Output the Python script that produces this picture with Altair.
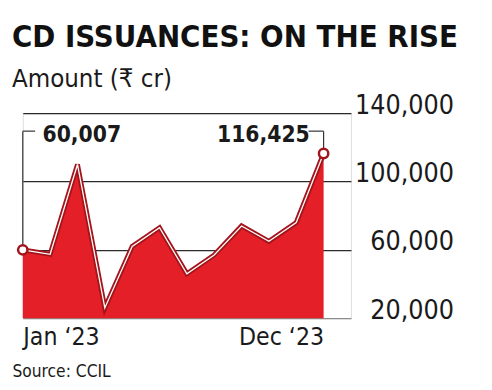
import altair as alt
import pandas as pd

months = ["Jan", "Feb", "Mar", "Apr", "May", "Jun", "Jul", "Aug", "Sep", "Oct", "Nov", "Dec"]
month_index = list(range(12))
amounts = [60007, 57400, 110000, 26000, 62000, 73000, 46000, 57000, 74000, 65000, 76000, 116425]
y_ticks = [20000, 60000, 100000, 140000]
x_tick_index = [0, 11]
x_tick_labels = ["Jan ‘23", "Dec ‘23"]
callout_index = [0, 11]
callout_values = [60007, 116425]
callout_text = ["60,007", "116,425"]
callout_side = ["left", "right"]
callout_level = 129500

RED = "#e41f27"
DARK = "#a3141b"
FONT = "DejaVu Sans Condensed"

df = pd.DataFrame({"i": month_index, "month": months, "amount": amounts})
ends = df[df["i"].isin(callout_index)]
callouts = pd.DataFrame({
    "i": callout_index,
    "amount": callout_values,
    "text": callout_text,
    "side": callout_side,
    "level": [callout_level] * len(callout_index),
    "x_end": [callout_index[0] + 0.45, callout_index[1] - 0.55],
})

xs = alt.Scale(domain=[0, 12], nice=False, zero=False)
ys = alt.Scale(domain=[20000, 140000], nice=False, zero=False)

x_axis = alt.Axis(
    values=x_tick_index,
    labelExpr="datum.value == 0 ? '%s' : '%s'" % (x_tick_labels[0], x_tick_labels[1]),
    labelAlign={"condition": {"test": "datum.value == 0", "value": "left"}, "value": "right"},
    labelFontSize=25, labelFont=FONT, labelColor="#1a1a1a", labelPadding=7,
    ticks=False, domain=False, grid=False,
    title="Source: CCIL", titleFont=FONT, titleFontSize=17.5, titleFontWeight="normal",
    titleColor="#1a1a1a", titleAnchor="start", titleAlign="left", titleX=-11, titlePadding=13,
)
y_axis = alt.Axis(
    orient="right", values=y_ticks, format=",.0f",
    grid=True,
    gridColor={"condition": {"test": "datum.value == 20000", "value": "#8c8c8c"}, "value": "#2b2b2b"},
    gridWidth=1.2,
    labelAlign="right", labelBaseline="alphabetic", labelPadding=104,
    labelFontSize=27, labelFont=FONT, labelColor="#1a1a1a",
    ticks=False, domain=False, title=None,
)

X = alt.X("i:Q", scale=xs, axis=x_axis)
Y = alt.Y("amount:Q", scale=ys, axis=y_axis)
YL = alt.Y("level:Q", scale=ys, axis=y_axis)

base = alt.Chart(df)
area = base.mark_area(color=RED, opacity=1).encode(x=X, y=Y, y2=alt.datum(20000))
line_dark = base.mark_line(color=DARK, strokeWidth=5, strokeJoin="miter").encode(x=X, y=Y)
line_white = base.mark_line(color="white", strokeWidth=1.3, strokeJoin="miter").encode(x=X, y=Y)

cbase = alt.Chart(callouts)
lead_v = cbase.mark_rule(color="#333", strokeWidth=1.2).encode(x=X, y=Y, y2="level:Q")
lead_h = cbase.mark_rule(color="#333", strokeWidth=1.2).encode(x=X, x2="x_end:Q", y=YL)
pts = alt.Chart(ends).mark_point(shape="circle", filled=True, fill="white", stroke=DARK,
                                 strokeWidth=2.5, size=90, opacity=1).encode(x=X, y=Y)
txt_l = cbase.transform_filter("datum.side == 'left'").mark_text(
    align="left", baseline="middle", dx=20, dy=4, font=FONT, fontWeight="bold", fontSize=23, color="#1a1a1a"
).encode(x=X, y=YL, text="text:N")
txt_r = cbase.transform_filter("datum.side == 'right'").mark_text(
    align="right", baseline="middle", dx=-14, dy=4, font=FONT, fontWeight="bold", fontSize=23, color="#1a1a1a"
).encode(x=X, y=YL, text="text:N")

chart = alt.layer(area, lead_v, lead_h, line_dark, line_white, pts, txt_l, txt_r).properties(
    width=333, height=208,
    autosize=alt.AutoSizeParams(type="none"),
    padding={"left": 15, "top": 104, "right": 135, "bottom": 62},
    title=alt.TitleParams(
        text="CD ISSUANCES: ON THE RISE", subtitle="Amount (₹ cr)",
        anchor="start", frame="group", dx=-11, font=FONT, fontSize=31.3, fontWeight="bold", color="#111",
        subtitleFont=FONT, subtitleFontSize=26, subtitleColor="#1a1a1a", subtitlePadding=13, offset=0,
    ),
).configure_view(strokeWidth=0).configure(background="white")

chart.save("out.html", embed_options={"renderer": "svg", "actions": False})
